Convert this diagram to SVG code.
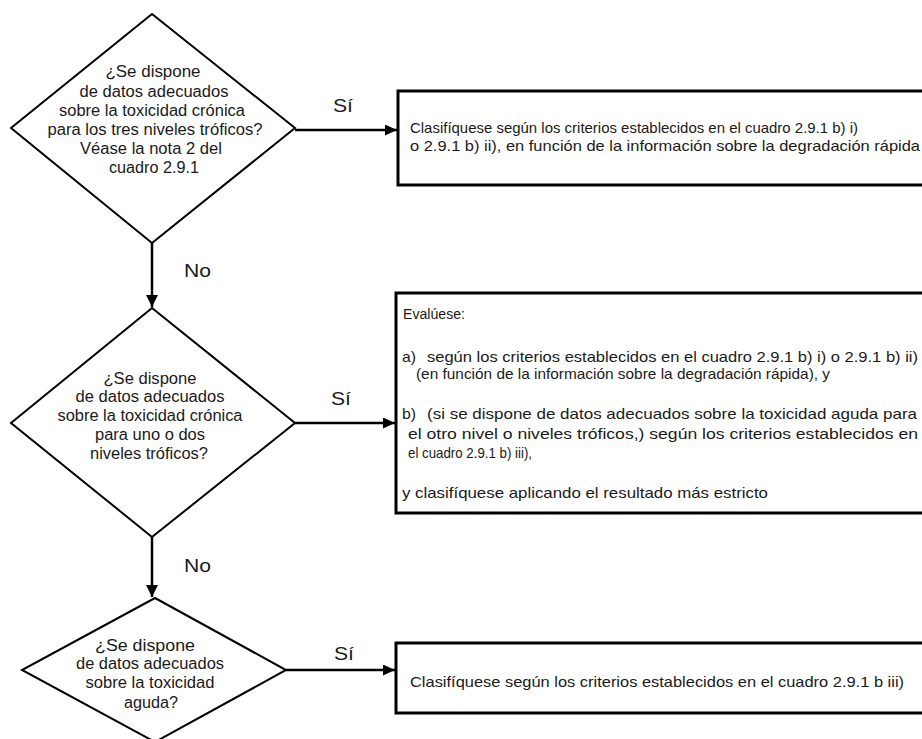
<svg xmlns="http://www.w3.org/2000/svg" width="922" height="739" viewBox="0 0 922 739">
<style>
text{font-family:"Liberation Sans",Arial,sans-serif;fill:#1a1a1a}
.d{font-size:16px;text-anchor:middle}
.b{font-size:15px}
.lbl{font-size:19px}
.shape{fill:#fff;stroke:#000;stroke-width:2}
.box{fill:#fff;stroke:#000;stroke-width:3}
.conn{stroke:#000;stroke-width:2.5;fill:none}
</style>
<defs>
<marker id="ah" markerWidth="12" markerHeight="11" refX="12" refY="5.5" orient="auto" markerUnits="userSpaceOnUse" viewBox="0 0 12 11">
<path d="M0,0 L12,5.5 L0,11 Z" fill="#000"/>
</marker>
<marker id="ahv" markerWidth="12" markerHeight="14" refX="12" refY="6" orient="auto" markerUnits="userSpaceOnUse" viewBox="0 0 12 12">
<path d="M0,0 L12,6 L0,12 Z" fill="#000"/>
</marker>
</defs>
<g id="connectors">
<line class="conn" x1="295" y1="130" x2="397" y2="130" marker-end="url(#ah)"/>
<line class="conn" x1="295" y1="423" x2="395" y2="423" marker-end="url(#ah)"/>
<line class="conn" x1="286" y1="670" x2="395" y2="670" marker-end="url(#ah)"/>
<line class="conn" x1="152" y1="243" x2="152" y2="307" marker-end="url(#ahv)"/>
<line class="conn" x1="152" y1="537" x2="152" y2="597" marker-end="url(#ahv)"/>
<text class="lbl" x="333" y="112" textLength="20" lengthAdjust="spacingAndGlyphs">Sí</text>
<text class="lbl" x="184" y="277" textLength="27" lengthAdjust="spacingAndGlyphs">No</text>
<text class="lbl" x="331" y="405" textLength="20" lengthAdjust="spacingAndGlyphs">Sí</text>
<text class="lbl" x="184" y="572" textLength="27" lengthAdjust="spacingAndGlyphs">No</text>
<text class="lbl" x="334" y="660" textLength="20" lengthAdjust="spacingAndGlyphs">Sí</text>
</g>
<g id="q1">
<polygon class="shape" points="152,14 295,128 152,243 11,128"/>
<text class="d" x="153" y="77" textLength="95" lengthAdjust="spacingAndGlyphs">¿Se dispone</text>
<text class="d" x="154" y="97" textLength="149" lengthAdjust="spacingAndGlyphs">de datos adecuados</text>
<text class="d" x="152" y="116" textLength="186" lengthAdjust="spacingAndGlyphs">sobre la toxicidad crónica</text>
<text class="d" x="155" y="135" textLength="215" lengthAdjust="spacingAndGlyphs">para los tres niveles tróficos?</text>
<text class="d" x="151" y="154" textLength="142" lengthAdjust="spacingAndGlyphs">Véase la nota 2 del</text>
<text class="d" x="154" y="173" textLength="90" lengthAdjust="spacingAndGlyphs">cuadro 2.9.1</text>
</g>
<g id="r1">
<rect class="box" x="398" y="91" width="540" height="94"/>
<text class="b" x="410" y="133" textLength="448" lengthAdjust="spacingAndGlyphs">Clasifíquese según los criterios establecidos en el cuadro 2.9.1 b) i)</text>
<text class="b" x="410" y="151" textLength="510" lengthAdjust="spacingAndGlyphs">o 2.9.1 b) ii), en función de la información sobre la degradación rápida</text>
</g>
<g id="q2">
<polygon class="shape" points="152,308 295,423 152,537 11,423"/>
<text class="d" x="150" y="384" textLength="93" lengthAdjust="spacingAndGlyphs">¿Se dispone</text>
<text class="d" x="150" y="402" textLength="149" lengthAdjust="spacingAndGlyphs">de datos adecuados</text>
<text class="d" x="150" y="421" textLength="185" lengthAdjust="spacingAndGlyphs">sobre la toxicidad crónica</text>
<text class="d" x="150" y="440" textLength="110" lengthAdjust="spacingAndGlyphs">para uno o dos</text>
<text class="d" x="149" y="459" textLength="118" lengthAdjust="spacingAndGlyphs">niveles tróficos?</text>
</g>
<g id="r2">
<rect class="box" x="396" y="293" width="542" height="220"/>
<text class="b" x="403" y="319" textLength="62" lengthAdjust="spacingAndGlyphs">Evalúese:</text>
<text class="b" x="402" y="362" textLength="14" lengthAdjust="spacingAndGlyphs">a)</text>
<text class="b" x="427" y="362" textLength="491" lengthAdjust="spacingAndGlyphs">según los criterios establecidos en el cuadro 2.9.1 b) i) o 2.9.1 b) ii)</text>
<text class="b" x="416" y="379" textLength="414" lengthAdjust="spacingAndGlyphs">(en función de la información sobre la degradación rápida), y</text>
<text class="b" x="402" y="419" textLength="14" lengthAdjust="spacingAndGlyphs">b)</text>
<text class="b" x="427" y="419" textLength="490" lengthAdjust="spacingAndGlyphs">(si se dispone de datos adecuados sobre la toxicidad aguda para</text>
<text class="b" x="408" y="439" textLength="510" lengthAdjust="spacingAndGlyphs">el otro nivel o niveles tróficos,) según los criterios establecidos en</text>
<text class="b" x="408" y="458" textLength="124" lengthAdjust="spacingAndGlyphs">el cuadro 2.9.1 b) iii),</text>
<text class="b" x="402" y="498" textLength="366" lengthAdjust="spacingAndGlyphs">y clasifíquese aplicando el resultado más estricto</text>
</g>
<g id="q3">
<polygon class="shape" points="155,598 286,670 155,742 22,670"/>
<text class="d" x="145" y="651" textLength="100" lengthAdjust="spacingAndGlyphs">¿Se dispone</text>
<text class="d" x="150" y="669" textLength="148" lengthAdjust="spacingAndGlyphs">de datos adecuados</text>
<text class="d" x="150" y="688" textLength="129" lengthAdjust="spacingAndGlyphs">sobre la toxicidad</text>
<text class="d" x="151" y="708" textLength="54" lengthAdjust="spacingAndGlyphs">aguda?</text>
</g>
<g id="r3">
<rect class="box" x="396" y="643" width="540" height="70"/>
<text class="b" x="410" y="687" textLength="494" lengthAdjust="spacingAndGlyphs">Clasifíquese según los criterios establecidos en el cuadro 2.9.1 b iii)</text>
</g>
</svg>
